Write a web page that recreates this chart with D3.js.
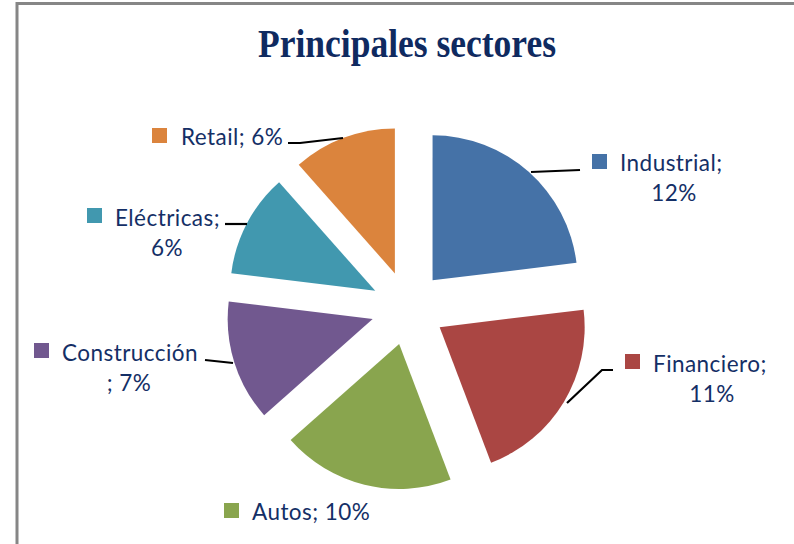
<!DOCTYPE html>
<html><head><meta charset="utf-8">
<script src="https://cdn.jsdelivr.net/npm/d3@7"></script>
<style>html,body{margin:0;padding:0;background:#fff;overflow:hidden}</style>
</head><body>
<svg id="chart" width="794" height="544"></svg>
<script>
const title = "Principales sectores";
const categories = ["Industrial", "Financiero", "Autos", "Construcción", "Eléctricas", "Retail"];
const values = [12, 11, 10, 7, 6, 6];
const colors = ["#4572A7", "#AA4643", "#89A54E", "#71588F", "#4198AF", "#DB843D"];
// label lines (text) per slice
const labelLines = [["Industrial;", "12%"], ["Financiero;", "11%"], ["Autos; 10%"], ["Construcción", "; 7%"], ["Eléctricas;", "6%"], ["Retail; 6%"]];

const svg = d3.select("#chart");
const W = 794, H = 544;
svg.append("rect").attr("width", W).attr("height", H).attr("fill", "#fff");
// frame
svg.append("rect").attr("x", 17).attr("y", 3.5).attr("width", 900).attr("height", 900)
  .attr("fill", "none").attr("stroke", "#868686").attr("stroke-width", 3);

svg.append("text").attr("x", 407).attr("y", 57).attr("text-anchor", "middle")
  .attr("font-family", "Liberation Serif, Times New Roman, serif").attr("font-weight", "bold")
  .attr("font-size", 40).attr("fill", "#0F2A60")
  .attr("textLength", 298).attr("lengthAdjust", "spacingAndGlyphs").text(title);

const cx = 408, cy = 308, R = 145, explode = 37;
const pie = d3.pie().sort(null).value(d => d)(values);
const arc = d3.arc().innerRadius(0).outerRadius(R);
const g = svg.append("g").attr("transform", `translate(${cx},${cy})`);
g.selectAll("path").data(pie).join("path")
  .attr("transform", d => {
    const m = (d.startAngle + d.endAngle) / 2;
    return `translate(${explode * Math.sin(m)},${-explode * Math.cos(m)})`;
  })
  .attr("d", arc).attr("fill", (d, i) => colors[i]);

// label placements (anchor point for square + text), leader lines
const labelPos = [
  {sx: 592, sy: 154, tx: 620, ty: 171, cx2: 674, lines: [[531,172],[580,170]]},
  {sx: 625, sy: 354, tx: 653, ty: 372, cx2: 712, lines: [[567,403],[602,370],[613,370]]},
  {sx: 224, sy: 503, tx: 252, ty: 520, cx2: null, lines: null},
  {sx: 34, sy: 343, tx: 62, ty: 361, cx2: 129, lines: [[205,360],[233,363]]},
  {sx: 87, sy: 208, tx: 115, ty: 226, cx2: 167, lines: [[225,224],[247,224]]},
  {sx: 152, sy: 128, tx: 181, ty: 145, cx2: null, lines: [[288,143],[300,143],[343,138]]}
];
const line = d3.line();
labelPos.forEach((p, i) => {
  if (p.lines) svg.append("path").attr("d", line(p.lines)).attr("fill", "none")
    .attr("stroke", "#000").attr("stroke-width", 2.2);
  svg.append("rect").attr("x", p.sx).attr("y", p.sy).attr("width", 15).attr("height", 15).attr("fill", colors[i]);
  const t = svg.append("text").attr("font-family", "Lato, Carlito, Calibri, sans-serif")
    .attr("font-size", 22.5).attr("letter-spacing", 0.45).attr("fill", "#142F66");
  labelLines[i].forEach((s, k) => {
    if (k === 0) t.append("tspan").attr("x", p.tx).attr("y", p.ty).text(s);
    else t.append("tspan").attr("x", p.cx2).attr("y", p.ty + 30 * k).attr("text-anchor", "middle").text(s);
  });
});
</script>
</body></html>
